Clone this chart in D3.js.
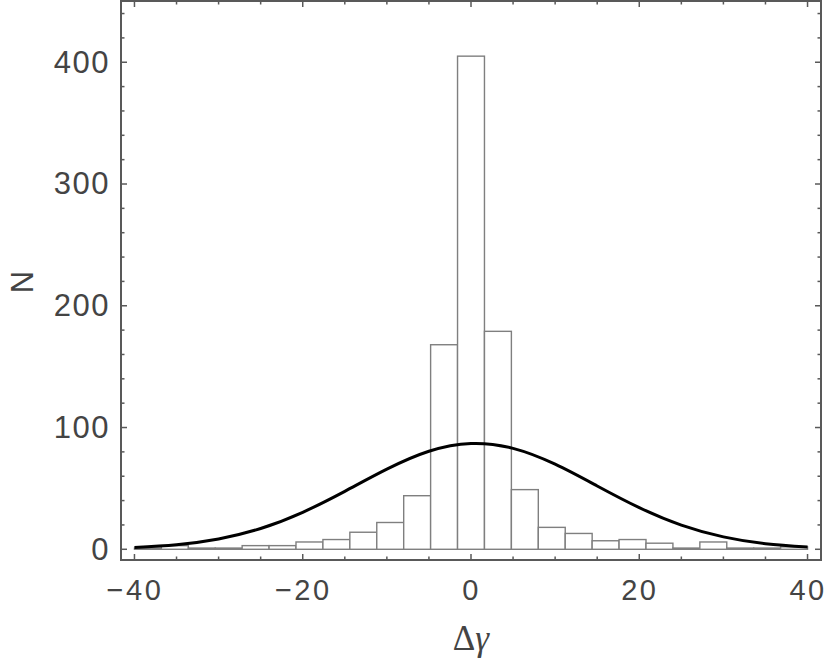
<!DOCTYPE html>
<html>
<head>
<meta charset="utf-8">
<script src="https://cdn.jsdelivr.net/npm/d3@7"></script>
<style>
  html, body { margin: 0; padding: 0; background: #fff; }
  svg { display: block; }
</style>
</head>
<body>
<svg id="chart" width="830" height="659"></svg>
<script>
// ---- data ----
const binEdges = [-40, -36.8, -33.6, -30.4, -27.2, -24, -20.8, -17.6, -14.4, -11.2, -8, -4.8, -1.6,
                  1.6, 4.8, 8, 11.2, 14.4, 17.6, 20.8, 24, 27.2, 30.4, 33.6, 36.8, 40];
const counts = [1, 3, 1, 1, 3, 3, 6, 8, 14, 22, 44, 168, 405, 179, 49, 18, 13, 7, 8, 5, 1, 6, 1, 1, 2];
const curveX = [-40, -35, -30, -25, -20, -15, -10, -5, 0, 5, 10, 15, 20, 25, 30, 35, 40];
const curveY = [1.5, 3.8, 8.5, 17.1, 30.4, 47.6, 65.8, 80.5, 86.9, 82.9, 69.9, 52.0, 34.2, 19.9, 10.2, 4.6, 1.9];
const xMajorTicks = [-40, -20, 0, 20, 40];
const xMinorTicks = [-40, -35, -30, -25, -20, -15, -10, -5, 0, 5, 10, 15, 20, 25, 30, 35, 40];
const yMajorTicks = [0, 100, 200, 300, 400];
const yMinorTicks = [0, 20, 40, 60, 80, 100, 120, 140, 160, 180, 200, 220, 240, 260, 280, 300, 320, 340, 360, 380, 400, 420, 440];
const xLabel = ["Δ", "γ"];
const yLabel = "N";

// ---- layout ----
const L = 121, R = 821, T = 1, B = 560;
const svg = d3.select("#chart");
const x = d3.scaleLinear().domain([-41.6, 41.6]).range([L, R]);
const y = d3.scaleLinear().domain([-8.8, 450.3]).range([B, T]);

const frameColor = "#595959";
const textColor = "#444";

// bars
const bins = counts.map((c, i) => ({x0: binEdges[i], x1: binEdges[i + 1], n: c}));
svg.append("g").selectAll("rect").data(bins.filter(d => d.n > 0)).join("rect")
  .attr("x", d => x(d.x0))
  .attr("y", d => y(d.n))
  .attr("width", d => x(d.x1) - x(d.x0))
  .attr("height", d => y(0) - y(d.n))
  .attr("fill", "#fff")
  .attr("stroke", "#7f7f7f")
  .attr("stroke-width", 1.4);

// curve
const line = d3.line().x(d => x(d[0])).y(d => y(d[1])).curve(d3.curveNatural);
svg.append("path")
  .datum(curveX.map((v, i) => [v, curveY[i]]))
  .attr("d", line)
  .attr("fill", "none")
  .attr("stroke", "#000")
  .attr("stroke-width", 3);

// frame
svg.append("rect")
  .attr("x", L).attr("y", T).attr("width", R - L).attr("height", B - T)
  .attr("fill", "none").attr("stroke", frameColor).attr("stroke-width", 2);

// ticks
const tickG = svg.append("g").attr("stroke", frameColor).attr("stroke-width", 1.5);
function ticksX(vals, len) {
  vals.forEach(v => {
    tickG.append("line").attr("x1", x(v)).attr("x2", x(v)).attr("y1", B).attr("y2", B - len);
    tickG.append("line").attr("x1", x(v)).attr("x2", x(v)).attr("y1", T).attr("y2", T + len);
  });
}
function ticksY(vals, len) {
  vals.forEach(v => {
    tickG.append("line").attr("y1", y(v)).attr("y2", y(v)).attr("x1", L).attr("x2", L + len);
    tickG.append("line").attr("y1", y(v)).attr("y2", y(v)).attr("x1", R).attr("x2", R - len);
  });
}
ticksX(xMinorTicks.filter(v => !xMajorTicks.includes(v)), 3.5);
ticksX(xMajorTicks, 6);
ticksY(yMinorTicks.filter(v => !yMajorTicks.includes(v)), 3.5);
ticksY(yMajorTicks, 6);

// axis labels via d3 axes (text only)
const fmt = d3.format("d");
const xAxis = svg.append("g").attr("transform", `translate(0,${B})`)
  .call(d3.axisBottom(x).tickValues(xMajorTicks).tickFormat(v => fmt(v).replace("-", "\u2212")).tickSize(0).tickPadding(19));
xAxis.select(".domain").remove();
xAxis.selectAll("text").attr("font-family", "Liberation Sans, Arial, sans-serif")
  .attr("font-size", 29).attr("fill", textColor).attr("letter-spacing", 2.5);

const yAxis = svg.append("g").attr("transform", `translate(${L},0)`)
  .call(d3.axisLeft(y).tickValues(yMajorTicks).tickFormat(fmt).tickSize(0).tickPadding(11));
yAxis.select(".domain").remove();
yAxis.selectAll("text").attr("font-family", "Liberation Sans, Arial, sans-serif")
  .attr("font-size", 31).attr("fill", textColor).attr("letter-spacing", 1.5);

// axis titles
const xt = svg.append("text").attr("x", 471).attr("y", 650).attr("text-anchor", "middle")
  .attr("font-family", "Liberation Serif, DejaVu Serif, serif").attr("font-size", 35).attr("fill", textColor);
xt.append("tspan").text(xLabel[0]);
xt.append("tspan").attr("font-style", "italic").text(xLabel[1]);

svg.append("text").attr("transform", "translate(33,282) rotate(-90)").attr("text-anchor", "middle")
  .attr("font-family", "Liberation Sans, Arial, sans-serif").attr("font-size", 31).attr("fill", textColor)
  .text(yLabel);
</script>
</body>
</html>
